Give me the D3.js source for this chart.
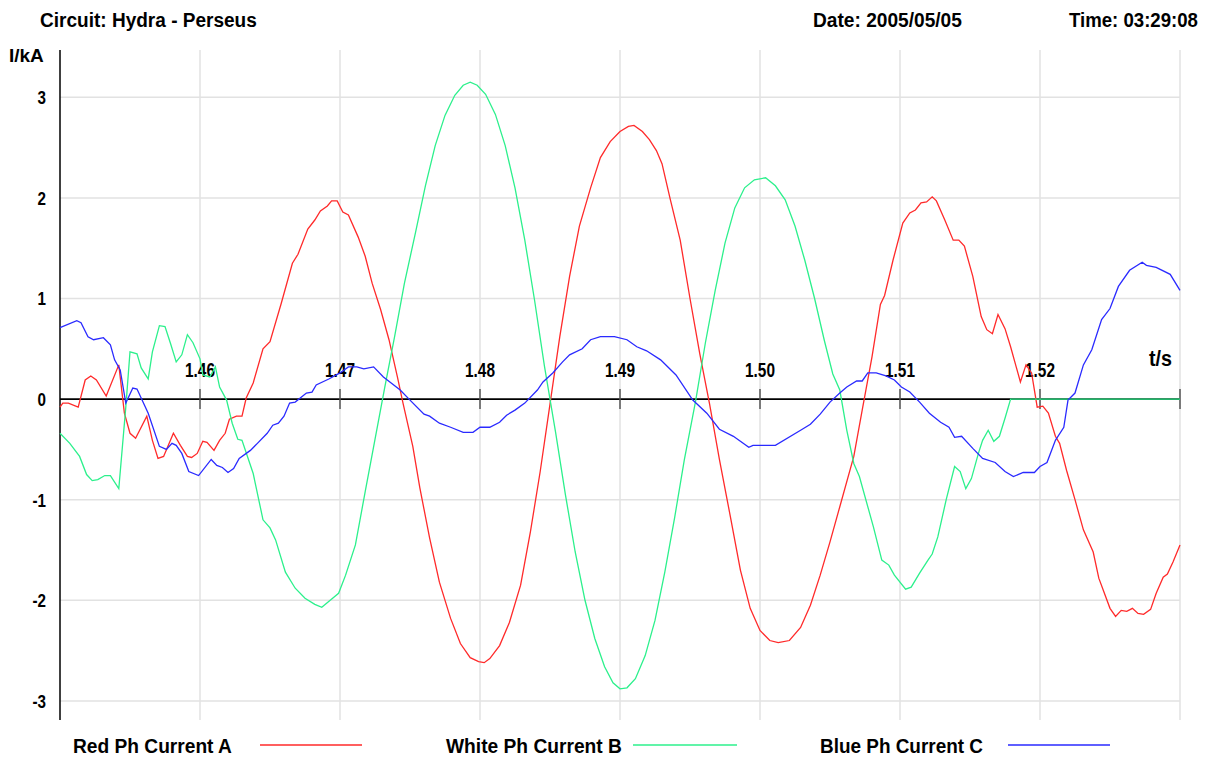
<!DOCTYPE html>
<html>
<head>
<meta charset="UTF-8">
<script src="https://cdn.jsdelivr.net/npm/d3@7"></script>
<style>
  body { margin: 0; background: #fff; }
  text { font-family: "Liberation Sans Narrow", "Liberation Sans", Arial, sans-serif; font-weight: bold; fill: #000; }
</style>
</head>
<body>
<svg id="chart" width="1210" height="760"></svg>
<script>
// header texts
const circuit = "Circuit: Hydra - Perseus";
const dateTxt = "Date: 2005/05/05";
const timeTxt = "Time: 03:29:08";

// axis ticks
const xTicks = [1.46, 1.47, 1.48, 1.49, 1.50, 1.51, 1.52, 1.53];
const xTickLabels = ["1.46", "1.47", "1.48", "1.49", "1.50", "1.51", "1.52", ""];
const yTicks = [-3, -2, -1, 0, 1, 2, 3];

// series [t (s), I (kA)]
const redPh = [
  [1.4500,-0.08],[1.4502,-0.04],[1.4506,-0.04],[1.4513,-0.08],[1.4518,0.19],[1.4522,0.23],[1.4526,0.19],
  [1.4533,0.03],[1.4542,0.34],[1.4546,-0.14],[1.4550,-0.34],[1.4554,-0.39],[1.4562,-0.17],[1.4566,-0.41],
  [1.4570,-0.59],[1.4574,-0.57],[1.4581,-0.34],[1.4586,-0.46],[1.4591,-0.57],[1.4594,-0.58],[1.4598,-0.54],
  [1.4602,-0.42],[1.4605,-0.43],[1.4610,-0.51],[1.4614,-0.41],[1.4618,-0.34],[1.4621,-0.20],[1.4626,-0.17],
  [1.4630,-0.17],[1.4633,0.01],[1.4638,0.16],[1.4645,0.50],[1.4650,0.57],[1.4658,0.95],[1.4666,1.35],
  [1.4670,1.44],[1.4677,1.69],[1.4682,1.78],[1.4686,1.87],[1.4691,1.92],[1.4694,1.97],[1.4698,1.97],
  [1.4702,1.86],[1.4706,1.83],[1.4713,1.61],[1.4718,1.42],[1.4723,1.15],[1.4729,0.89],[1.4735,0.59],
  [1.4741,0.22],[1.4745,-0.04],[1.4752,-0.47],[1.4757,-0.88],[1.4764,-1.38],[1.4771,-1.82],[1.4779,-2.18],
  [1.4786,-2.43],[1.4793,-2.57],[1.4799,-2.61],[1.4803,-2.62],[1.4807,-2.58],[1.4814,-2.45],[1.4821,-2.22],
  [1.4829,-1.85],[1.4836,-1.32],[1.4843,-0.72],[1.4850,-0.05],[1.4857,0.62],[1.4864,1.22],[1.4871,1.72],
  [1.4879,2.10],[1.4886,2.40],[1.4893,2.56],[1.4900,2.66],[1.4906,2.71],[1.4910,2.72],[1.4916,2.66],
  [1.4921,2.58],[1.4926,2.47],[1.4930,2.34],[1.4936,1.98],[1.4943,1.58],[1.4950,1.00],[1.4957,0.45],
  [1.4964,-0.05],[1.4971,-0.60],[1.4979,-1.18],[1.4986,-1.70],[1.4993,-2.08],[1.5000,-2.30],[1.5007,-2.40],
  [1.5013,-2.42],[1.5021,-2.40],[1.5029,-2.27],[1.5036,-2.05],[1.5043,-1.75],[1.5050,-1.42],[1.5057,-1.07],
  [1.5067,-0.57],[1.5073,-0.11],[1.5080,0.42],[1.5086,0.94],[1.5089,1.03],[1.5095,1.38],[1.5102,1.75],
  [1.5107,1.85],[1.5111,1.88],[1.5115,1.95],[1.5119,1.96],[1.5123,2.01],[1.5126,1.97],[1.5132,1.78],
  [1.5138,1.58],[1.5142,1.58],[1.5146,1.52],[1.5152,1.22],[1.5158,0.82],[1.5162,0.69],[1.5166,0.65],
  [1.5170,0.84],[1.5175,0.70],[1.5179,0.52],[1.5182,0.37],[1.5186,0.17],[1.5190,0.34],[1.5194,0.26],
  [1.5198,-0.08],[1.5202,-0.07],[1.5206,-0.14],[1.5211,-0.37],[1.5214,-0.44],[1.5219,-0.71],[1.5225,-1.00],
  [1.5231,-1.30],[1.5238,-1.52],[1.5242,-1.78],[1.5250,-2.08],[1.5254,-2.16],[1.5258,-2.10],[1.5262,-2.11],
  [1.5266,-2.08],[1.5270,-2.13],[1.5274,-2.14],[1.5279,-2.09],[1.5283,-1.93],[1.5288,-1.77],[1.5291,-1.74],
  [1.5295,-1.62],[1.5300,-1.45]
];

const whitePh = [
  [1.4500,-0.34],[1.4507,-0.44],[1.4514,-0.57],[1.4519,-0.75],[1.4523,-0.81],[1.4527,-0.80],[1.4532,-0.76],
  [1.4536,-0.76],[1.4542,-0.89],[1.4547,-0.08],[1.4550,0.47],[1.4555,0.45],[1.4558,0.31],[1.4563,0.20],
  [1.4566,0.47],[1.4571,0.73],[1.4575,0.72],[1.4579,0.55],[1.4583,0.37],[1.4587,0.44],[1.4591,0.64],
  [1.4595,0.56],[1.4600,0.40],[1.4602,0.24],[1.4607,0.22],[1.4611,0.32],[1.4614,0.12],[1.4619,-0.01],
  [1.4623,-0.24],[1.4627,-0.40],[1.4630,-0.41],[1.4638,-0.74],[1.4645,-1.20],[1.4650,-1.28],[1.4654,-1.40],
  [1.4661,-1.72],[1.4668,-1.88],[1.4675,-1.98],[1.4682,-2.04],[1.4687,-2.07],[1.4693,-2.00],[1.4699,-1.93],
  [1.4704,-1.75],[1.4711,-1.45],[1.4718,-0.92],[1.4725,-0.40],[1.4732,0.12],[1.4739,0.62],[1.4746,1.15],
  [1.4754,1.66],[1.4761,2.12],[1.4768,2.52],[1.4775,2.82],[1.4782,3.02],[1.4788,3.12],[1.4793,3.15],
  [1.4798,3.12],[1.4804,3.03],[1.4811,2.83],[1.4818,2.52],[1.4825,2.10],[1.4832,1.58],[1.4839,0.98],
  [1.4846,0.33],[1.4854,-0.33],[1.4861,-0.95],[1.4868,-1.52],[1.4875,-2.00],[1.4882,-2.38],[1.4889,-2.66],
  [1.4895,-2.82],[1.4900,-2.88],[1.4905,-2.87],[1.4911,-2.78],[1.4918,-2.55],[1.4925,-2.20],[1.4932,-1.72],
  [1.4939,-1.18],[1.4946,-0.60],[1.4954,-0.02],[1.4961,0.56],[1.4968,1.08],[1.4975,1.55],[1.4982,1.90],
  [1.4989,2.10],[1.4996,2.18],[1.5004,2.20],[1.5011,2.12],[1.5018,1.98],[1.5025,1.72],[1.5032,1.38],
  [1.5039,1.00],[1.5046,0.58],[1.5052,0.25],[1.5057,0.09],[1.5062,-0.31],[1.5067,-0.64],[1.5071,-0.77],
  [1.5081,-1.27],[1.5087,-1.60],[1.5092,-1.65],[1.5096,-1.75],[1.5104,-1.89],[1.5108,-1.87],[1.5114,-1.73],
  [1.5120,-1.60],[1.5123,-1.54],[1.5127,-1.37],[1.5133,-1.00],[1.5139,-0.67],[1.5143,-0.72],[1.5147,-0.89],
  [1.5151,-0.79],[1.5156,-0.54],[1.5159,-0.41],[1.5163,-0.31],[1.5167,-0.42],[1.5171,-0.37],[1.5175,-0.19],
  [1.5179,0.00],[1.5200,0.00],[1.5250,0.00],[1.5300,0.00]
];

const bluePh = [
  [1.4500,0.71],[1.4512,0.78],[1.4515,0.76],[1.4520,0.62],[1.4524,0.59],[1.4531,0.61],[1.4536,0.54],
  [1.4539,0.39],[1.4543,0.29],[1.4547,-0.04],[1.4552,0.11],[1.4555,0.10],[1.4563,-0.14],[1.4571,-0.47],
  [1.4576,-0.50],[1.4580,-0.44],[1.4583,-0.46],[1.4587,-0.54],[1.4592,-0.72],[1.4599,-0.76],[1.4608,-0.60],
  [1.4612,-0.66],[1.4616,-0.68],[1.4620,-0.73],[1.4624,-0.69],[1.4628,-0.59],[1.4636,-0.51],[1.4641,-0.44],
  [1.4648,-0.34],[1.4652,-0.26],[1.4656,-0.24],[1.4660,-0.17],[1.4664,-0.04],[1.4668,-0.03],[1.4676,0.06],
  [1.4680,0.07],[1.4683,0.14],[1.4692,0.20],[1.4700,0.26],[1.4706,0.32],[1.4712,0.32],[1.4717,0.30],
  [1.4724,0.32],[1.4731,0.22],[1.4743,0.09],[1.4750,-0.01],[1.4760,-0.15],[1.4764,-0.17],[1.4771,-0.24],
  [1.4779,-0.28],[1.4788,-0.33],[1.4795,-0.33],[1.4800,-0.28],[1.4807,-0.28],[1.4814,-0.23],[1.4819,-0.16],
  [1.4825,-0.11],[1.4832,-0.04],[1.4841,0.09],[1.4845,0.17],[1.4852,0.26],[1.4859,0.37],[1.4864,0.44],
  [1.4873,0.50],[1.4879,0.59],[1.4886,0.62],[1.4896,0.62],[1.4905,0.59],[1.4912,0.52],[1.4919,0.48],
  [1.4929,0.39],[1.4940,0.24],[1.4952,-0.01],[1.4962,-0.14],[1.4971,-0.30],[1.4981,-0.37],[1.4992,-0.48],
  [1.4995,-0.46],[1.5011,-0.46],[1.5029,-0.31],[1.5036,-0.25],[1.5043,-0.15],[1.5050,-0.03],[1.5057,0.06],
  [1.5062,0.12],[1.5069,0.18],[1.5073,0.18],[1.5077,0.26],[1.5083,0.26],[1.5090,0.23],[1.5096,0.19],
  [1.5101,0.12],[1.5107,0.07],[1.5114,-0.03],[1.5121,-0.14],[1.5129,-0.23],[1.5135,-0.28],[1.5139,-0.38],
  [1.5144,-0.37],[1.5152,-0.49],[1.5159,-0.59],[1.5168,-0.63],[1.5175,-0.72],[1.5181,-0.77],[1.5188,-0.73],
  [1.5196,-0.73],[1.5200,-0.67],[1.5205,-0.63],[1.5211,-0.41],[1.5217,-0.28],[1.5220,-0.01],[1.5225,0.06],
  [1.5231,0.34],[1.5237,0.49],[1.5244,0.79],[1.5250,0.90],[1.5256,1.12],[1.5264,1.28],[1.5273,1.36],
  [1.5276,1.33],[1.5283,1.31],[1.5293,1.24],[1.5300,1.08]
];

const seriesNames = ["Red Ph Current A", "White Ph Current B", "Blue Ph Current C"];
const seriesColors = ["#ff2a2a", "#2cf08c", "#2a2aff"];
const seriesData = [redPh, whitePh, bluePh];

const svg = d3.select("#chart");

const x = d3.scaleLinear().domain([1.45, 1.53]).range([60, 1180]);
const y = d3.scaleLinear().domain([-3.19, 3.47]).range([720, 50]);

// condensed bold text: measure, then squeeze horizontally to the wanted width
function label(px, py, str, size, width, anchor) {
  const g = svg.append("g");
  const t = g.append("text")
    .attr("text-anchor", anchor || "start")
    .style("font-size", size + "px")
    .text(str);
  const w = t.node().getComputedTextLength();
  const k = width ? Math.min(1, width / w) : 1;
  g.attr("transform", "translate(" + px + "," + py + ") scale(" + k + ",1)");
  return t;
}

// grid
svg.append("g").selectAll("line")
  .data(yTicks.filter(d => d !== 0))
  .enter().append("line")
  .attr("x1", x(1.45)).attr("x2", x(1.53))
  .attr("y1", d => y(d)).attr("y2", d => y(d))
  .attr("stroke", "#e2e2e2").attr("stroke-width", 1.5);

svg.append("g").selectAll("line")
  .data(xTicks)
  .enter().append("line")
  .attr("x1", d => x(d)).attr("x2", d => x(d))
  .attr("y1", y.range()[1]).attr("y2", y.range()[0])
  .attr("stroke", "#e2e2e2").attr("stroke-width", 1.5);

// y axis
svg.append("line")
  .attr("x1", x(1.45)).attr("x2", x(1.45))
  .attr("y1", y.range()[1]).attr("y2", y.range()[0])
  .attr("stroke", "#000").attr("stroke-width", 1.5);

yTicks.forEach(d => {
  svg.append("g")
    .attr("transform", "translate(46," + (y(d) + 7) + ") scale(0.8,1)")
    .append("text")
    .attr("text-anchor", "end")
    .style("font-size", "19px")
    .text(d);
});

// x axis along zero
svg.append("line")
  .attr("x1", x(1.45)).attr("x2", x(1.53))
  .attr("y1", y(0)).attr("y2", y(0))
  .attr("stroke", "#000").attr("stroke-width", 1.6);

svg.append("g").selectAll("line")
  .data(xTicks)
  .enter().append("line")
  .attr("x1", d => x(d)).attr("x2", d => x(d))
  .attr("y1", y(0) - 10).attr("y2", y(0) + 10)
  .attr("stroke", "#555").attr("stroke-width", 1.5);

xTicks.forEach((d, i) => {
  if (xTickLabels[i]) label(x(d), y(0) - 22, xTickLabels[i], 20, 30, "middle");
});

// lines
const line = d3.line().x(d => x(d[0])).y(d => y(d[1]));
seriesData.forEach((s, i) => {
  svg.append("path")
    .datum(s)
    .attr("fill", "none")
    .attr("stroke", seriesColors[i])
    .attr("stroke-width", 1.3)
    .attr("d", line);
});

// titles
label(40, 27, circuit, 21, 217);
label(813, 27, dateTxt, 21, 149);
label(1069, 27, timeTxt, 21, 129);
label(9, 62, "I/kA", 19, 35);
label(1149, 366, "t/s", 22, 23);

// legend
const legX = [73, 446, 820];
const legW = [159, 176, 163];
const legLine = [[260, 362], [633, 737], [1008, 1110]];
seriesNames.forEach((n, i) => {
  label(legX[i], 753, n, 21, legW[i]);
  svg.append("line")
    .attr("x1", legLine[i][0]).attr("x2", legLine[i][1])
    .attr("y1", 745).attr("y2", 745)
    .attr("stroke", seriesColors[i]).attr("stroke-width", 1.3);
});
</script>
</body>
</html>
